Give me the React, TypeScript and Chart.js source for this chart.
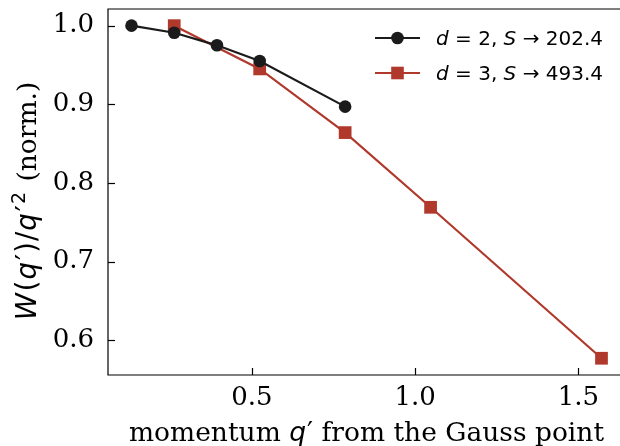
import React, { useEffect, useRef } from "react";
import { Chart, registerables } from "chart.js";
Chart.register(...registerables);

// ---- data ----
const xD2 = [0.1309, 0.2618, 0.3927, 0.5236, 0.7854];
const yD2 = [1.0, 0.991, 0.975, 0.955, 0.897];
const xD3 = [0.2618, 0.5236, 0.7854, 1.0472, 1.5708];
const yD3 = [1.0, 0.945, 0.864, 0.769, 0.577];
const xTicks = [0.5, 1.0, 1.5];
const yTicks = [0.6, 0.7, 0.8, 0.9, 1.0];
const seriesNames = [
  { d: "2", s: "202.4" },
  { d: "3", s: "493.4" },
];
const X_MIN = 0.0589, X_MAX = 1.6428;
const Y_MIN = 0.5557, Y_MAX = 1.0212;

const BLACK = "#1b1b1b";
const RED = "#b0392c";
const CW = 625, CH = 446;
const SERIF = "'DejaVu Serif'";
const SANS = "'DejaVu Sans'";

type Seg = { text: string; font: string; dy?: number; gap?: number };
function drawRich(ctx: CanvasRenderingContext2D, segs: Seg[], x: number, y: number, align: "left" | "center") {
  let total = 0;
  const ws = segs.map((s) => { ctx.font = s.font; const w = ctx.measureText(s.text).width + (s.gap || 0); total += w; return w; });
  let cx = align === "center" ? x - total / 2 : x;
  ctx.textAlign = "left";
  ctx.textBaseline = "alphabetic";
  segs.forEach((s, i) => { ctx.font = s.font; ctx.fillText(s.text, cx, y + (s.dy || 0)); cx += ws[i]; });
}

const customPlugin = {
  id: "custom",
  afterDraw(chart: any) {
    const { ctx, chartArea: ca, scales } = chart;
    ctx.save();
    ctx.strokeStyle = "#000";
    ctx.lineWidth = 1.2;
    ctx.beginPath();
    ctx.moveTo(ca.right + 2, ca.bottom);
    ctx.lineTo(ca.left, ca.bottom);
    ctx.lineTo(ca.left, ca.top);
    ctx.lineTo(ca.right + 2, ca.top);
    ctx.stroke();
    // inward ticks
    xTicks.forEach((v) => {
      const px = Math.round(scales.x.getPixelForValue(v)) + 0.5;
      ctx.beginPath(); ctx.moveTo(px, ca.bottom); ctx.lineTo(px, ca.bottom - 7); ctx.stroke();
    });
    yTicks.forEach((v) => {
      const py = Math.round(scales.y.getPixelForValue(v)) + 0.5;
      ctx.beginPath(); ctx.moveTo(ca.left, py); ctx.lineTo(ca.left + 7, py); ctx.stroke();
    });
    // axis titles
    ctx.fillStyle = "#000";
    const fs = 26.5;
    drawRich(ctx, [
      { text: "momentum ", font: `${fs}px ${SERIF}` },
      { text: "q", font: `italic ${fs}px ${SANS}`, gap: 1 },
      { text: "\u2032", font: `${fs}px ${SANS}` },
      { text: " from the Gauss point", font: `${fs}px ${SERIF}` },
    ], (ca.left + ca.right) / 2, 441, "center");
    ctx.save();
    ctx.translate(36, 201);
    ctx.rotate(-Math.PI / 2);
    const yf = 27.5;
    drawRich(ctx, [
      { text: "W", font: `italic ${yf}px ${SANS}`, gap: 2 },
      { text: "(", font: `${yf}px ${SANS}`, gap: 1 },
      { text: "q", font: `italic ${yf}px ${SANS}`, gap: 2 },
      { text: "\u2032", font: `${yf}px ${SANS}`, gap: 1 },
      { text: ")", font: `${yf}px ${SANS}`, gap: 1 },
      { text: "/", font: `${yf}px ${SANS}`, gap: 1 },
      { text: "q", font: `italic ${yf}px ${SANS}`, gap: 2 },
      { text: "\u2032", font: `${yf}px ${SANS}`, gap: 1 },
      { text: "2", font: `${Math.round(yf * 0.7)}px ${SANS}`, dy: -11, gap: 2 },
      { text: " (norm.)", font: `${26.5}px ${SERIF}` },
    ], 0, 0, "center");
    ctx.restore();
    // legend
    const lf = 20;
    const rows = [38, 73];
    const colors = [BLACK, RED];
    rows.forEach((ry, i) => {
      ctx.strokeStyle = colors[i];
      ctx.fillStyle = colors[i];
      ctx.lineWidth = 2.2;
      ctx.beginPath(); ctx.moveTo(375, ry); ctx.lineTo(420, ry); ctx.stroke();
      if (i === 0) { ctx.beginPath(); ctx.arc(397.5, ry, 6.3, 0, Math.PI * 2); ctx.fill(); }
      else { ctx.fillRect(397.5 - 6.3, ry - 6.3, 12.6, 12.6); }
      ctx.fillStyle = "#000";
      const n = seriesNames[i];
      drawRich(ctx, [
        { text: "d", font: `italic ${lf}px ${SANS}` },
        { text: ` = ${n.d}, `, font: `${lf}px ${SANS}` },
        { text: "S", font: `italic ${lf}px ${SANS}` },
        { text: ` \u2192 ${n.s}`, font: `${lf}px ${SANS}` },
      ], 436, ry + 7, "left");
    });
    ctx.restore();
  },
};

export default function App() {
  const ref = useRef<HTMLCanvasElement>(null);
  useEffect(() => {
    if (!ref.current) return;
    const chart = new Chart(ref.current, {
      type: "line",
      data: {
        datasets: [
          {
            label: "d=2",
            data: xD2.map((x, i) => ({ x, y: yD2[i] })),
            borderColor: BLACK,
            backgroundColor: BLACK,
            borderWidth: 2.2,
            pointStyle: "circle",
            pointRadius: 6.3,
            pointBorderWidth: 0,
            tension: 0,
          },
          {
            label: "d=3",
            data: xD3.map((x, i) => ({ x, y: yD3[i] })),
            borderColor: RED,
            backgroundColor: RED,
            borderWidth: 2.2,
            pointStyle: "rect",
            pointRadius: 9,
            pointBorderWidth: 0,
            tension: 0,
          },
        ],
      },
      options: {
        responsive: false,
        animation: false,
        devicePixelRatio: 1,
        layout: { autoPadding: false, padding: { top: 9, right: 0, left: 0, bottom: 0 } },
        plugins: { legend: { display: false }, tooltip: { enabled: false } },
        scales: {
          x: {
            type: "linear",
            min: X_MIN,
            max: X_MAX,
            afterBuildTicks: (s: any) => { s.ticks = xTicks.map((v) => ({ value: v })); },
            afterFit: (s: any) => { s.height = 71; s.paddingLeft = 0; s.paddingRight = 0; },
            grid: { display: false },
            border: { display: false },
            ticks: {
              color: "#000",
              padding: 0,
              font: { family: "DejaVu Serif", size: 26 },
              callback: (v: any) => Number(v).toFixed(1),
              maxRotation: 0,
            },
          },
          y: {
            type: "linear",
            min: Y_MIN,
            max: Y_MAX,
            afterBuildTicks: (s: any) => { s.ticks = yTicks.map((v) => ({ value: v })); },
            afterFit: (s: any) => { s.width = 108; s.paddingTop = 0; s.paddingBottom = 0; },
            grid: { display: false },
            border: { display: false },
            ticks: {
              color: "#000",
              padding: 6,
              font: { family: "DejaVu Serif", size: 26 },
              callback: (v: any) => Number(v).toFixed(1),
            },
          },
        },
      },
      plugins: [customPlugin],
    });
    return () => chart.destroy();
  }, []);
  return (
    <div style={{ position: "fixed", left: 0, top: 0, width: 620, height: 446, overflow: "hidden", background: "#fff" }}>
      <canvas ref={ref} width={CW} height={CH} style={{ display: "block" }} />
    </div>
  );
}
